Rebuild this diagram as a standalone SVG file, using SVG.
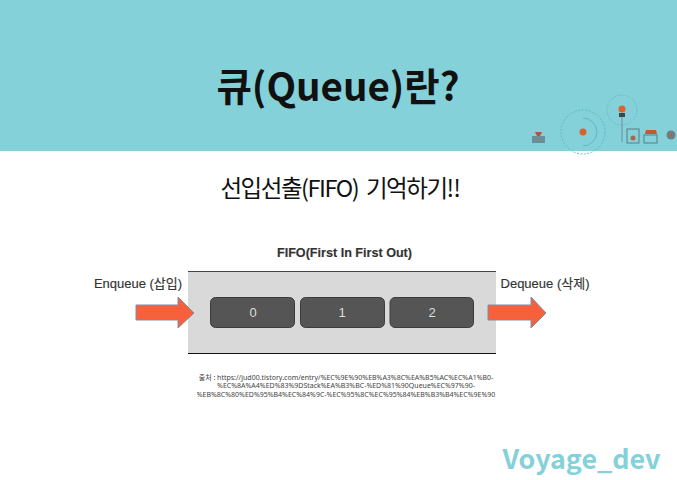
<svg xmlns="http://www.w3.org/2000/svg" width="677" height="480" viewBox="0 0 677 480">
<defs><filter id="s" x="-20%" y="-20%" width="140%" height="140%"><feGaussianBlur stdDeviation=".45"/></filter></defs>
<style>
text{font-family:"Noto Sans CJK KR","Noto Sans",sans-serif;text-anchor:middle}
.l{font-family:"Liberation Sans","Noto Sans CJK KR",sans-serif;fill:#333;font-size:13px;stroke:#333;stroke-width:.15}
.b{fill:#555;stroke:#3c3c3c;stroke-width:1}
.n{font-family:"Liberation Sans",sans-serif;font-size:13px;fill:#ddd}
.a{fill:#f8603c;stroke:#7d8fa6;stroke-width:1}
.r{fill:none;stroke:#5cb8c8;stroke-width:1}
.c{font-family:"Noto Sans","Noto Sans CJK KR",sans-serif;font-size:7px;fill:#444}
</style>
<rect width="677" height="480" fill="#fff"/>
<rect id="banner" width="677" height="151" fill="#84d1d9"/>
<g id="decor" filter="url(#s)">
<circle class="r" cx="583" cy="132" r="22" stroke-dasharray="2 1.500"/>
<path class="r" d="M583 118a14 14 0 0 1 0 28"/>
<circle cx="583" cy="132" r="3.500" fill="#d9622e"/>
<circle class="r" cx="622" cy="110" r="15" stroke-dasharray="2 1" opacity=".7"/>
<circle cx="622" cy="109" r="3.500" fill="#d9622e"/>
<rect x="619" y="113" width="6" height="4" fill="#444"/>
<path d="M622 117V142" stroke="#6a8f98"/>
<rect x="627" y="129" width="12" height="14" fill="none" stroke="#5a7c86"/>
<circle cx="633" cy="138" r="2.500" fill="#a8674a"/>
<path d="M645 134h12l-1-4h-10z" fill="#c4582f"/>
<rect x="644" y="135" width="13" height="8" fill="none" stroke="#5a7c86"/>
<circle cx="671" cy="135" r="4.500" fill="#6a7f86"/>
<circle cx="671" cy="135" r="1.500" fill="#c4582f"/>
<rect x="532" y="136" width="13" height="7" fill="#6a8f98"/>
<path d="M535 132h7l-2 4h-3z" fill="#a8583a"/>
</g>
<text id="title" x="338" y="101" font-size="38.500" font-weight="700" fill="#111">큐(Queue)란?</text>
<text id="subtitle" x="340" y="197" font-size="23.500" fill="#111" letter-spacing="-1.450" xml:space="preserve">선입선출(FIFO)  기억하기‼</text>
<g id="queue">
<rect x="188" y="272" width="308" height="81" fill="#d9d9d9"/>
<path d="M188 271.500H496" stroke="#444" stroke-width="1"/>
<path d="M188 353.500H496" stroke="#111" stroke-width="1"/>
<text class="l" x="344.500" y="257" style="font-weight:bold;font-size:12.600px">FIFO(First In First Out)</text>
</g>
<g id="node0"><rect class="b" x="210.500" y="297.500" width="84" height="30" rx="5"/><text class="n" x="253" y="317">0</text></g>
<g id="node1"><rect class="b" x="300.500" y="297.500" width="84" height="30" rx="5"/><text class="n" x="342" y="317">1</text></g>
<g id="node2"><rect class="b" x="390" y="297.500" width="83.500" height="30" rx="5"/><text class="n" x="432" y="317">2</text></g>
<g id="connectors">
<path class="a" d="M136 305H178V297L194 313 178 328V320H136Z"/>
<path class="a" d="M488 305H531V297L546 313 531 328V320H488Z"/>
</g>
<g id="enqueue"><text class="l" x="138" y="288">Enqueue (삽입)</text></g>
<g id="dequeue"><text class="l" x="545" y="288">Dequeue (삭제)</text></g>
<g id="source">
<text class="c" x="346" y="380">출처 : https://jud00.tistory.com/entry/%EC%9E%90%EB%A3%8C%EA%B5%AC%EC%A1%B0-</text>
<text class="c" x="346" y="388">%EC%8A%A4%ED%83%9DStack%EA%B3%BC-%ED%81%90Queue%EC%97%90-</text>
<text class="c" x="346" y="397">%EB%8C%80%ED%95%B4%EC%84%9C-%EC%95%8C%EC%95%84%EB%B3%B4%EC%9E%90</text>
</g>
<text id="brand" x="581.500" y="469" font-size="26.900" font-weight="700" fill="#84d1d9">Voyage_dev</text>
</svg>
